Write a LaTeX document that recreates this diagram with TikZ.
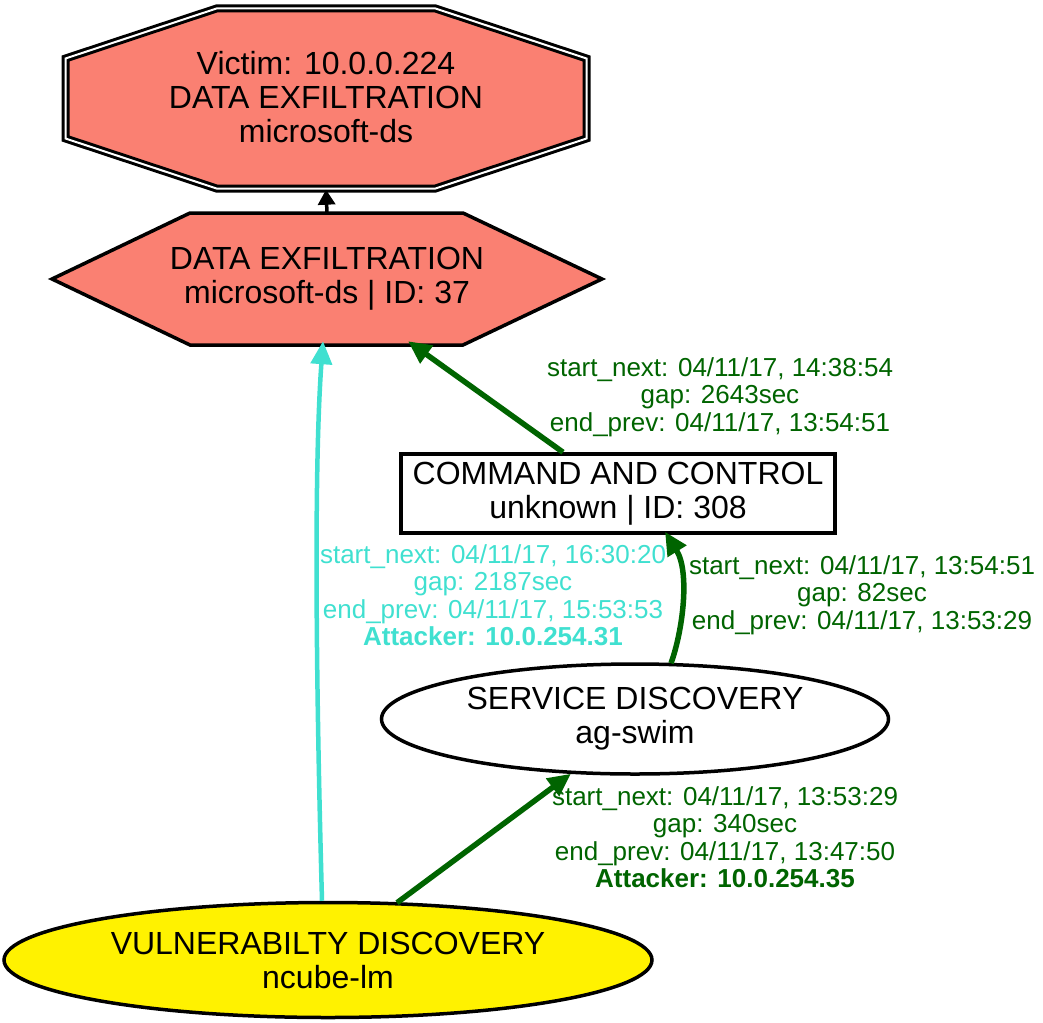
\documentclass[tikz,border=0pt]{standalone}
\usepackage{fontspec}
\setmainfont{Liberation Sans}
\usetikzlibrary{arrows.meta,shapes.geometric}
\definecolor{salmon}{HTML}{FA8072}
\definecolor{turq}{HTML}{40E0D0}
\definecolor{dgreen}{HTML}{006400}
\begin{document}
\begin{tikzpicture}[x=1pt,y=-1pt,
  nodetext/.style={font=\fontsize{32}{34}\selectfont, align=center, inner sep=0pt},
  lbl/.style={font=\fontsize{26}{27.5}\selectfont, align=center, inner sep=0pt},
  arr/.style={-{Triangle[length=23pt,width=21pt]}, line width=5.5pt},
  border/.style={draw=black, line width=3.5pt}]
\useasboundingbox (0,0) rectangle (1043,1022);

% octagon (double border)
\path[fill=salmon, draw=black, line width=3pt, double=white, double distance=2pt]
  (65.5,58.5) -- (216.5,8.5) -- (435.5,8.5) -- (586.5,58.5) -- (586.5,138.5)
  -- (435.5,188.5) -- (216.5,188.5) -- (65.5,138.5) -- cycle;
\node[nodetext, minimum width=528pt, minimum height=187pt] (vic) at (326,97)
  {Victim: 10.0.0.224\\DATA EXFILTRATION\\microsoft-ds};

% hexagon
\path[fill=salmon, border, line join=miter]
  (52,279) -- (190,213) -- (463,213) -- (602,279) -- (463,345) -- (190,345) -- cycle;
\node[nodetext, minimum width=550pt, minimum height=132pt] (hex) at (327,279)
  {DATA EXFILTRATION\\microsoft-ds | ID: 37};

% command and control
\node[nodetext, border, fill=white, minimum width=434pt, minimum height=79pt] (c2c) at (618,493.5)
  {COMMAND AND CONTROL\\unknown | ID: 308};

% service discovery
\node[nodetext, border, ellipse, fill=white, minimum width=507pt, minimum height=110pt] (sd) at (635,719)
  {SERVICE DISCOVERY\\ag-swim};

% vulnerability discovery
\node[nodetext, border, ellipse, fill=yellow, minimum width=648pt, minimum height=115pt] (vul) at (328,960)
  {VULNERABILTY DISCOVERY\\ncube-lm};

% edges
\draw[line width=3.5pt, -{Triangle[length=15pt,width=17pt]}] (hex.north) -- ([yshift=1pt]vic.south);
\draw[arr, turq, line width=4.5pt] ([xshift=-6pt]vul.north) .. controls (317,720) and (313,480) .. ([xshift=-4pt,yshift=4pt]hex.south);
\draw[arr, dgreen] ([xshift=-55pt]c2c.north) -- ([xshift=81pt,yshift=4pt]hex.south);
\draw[arr, dgreen] ([xshift=36pt,yshift=-1pt]sd.north) .. controls (683,630) and (690,572) .. ([xshift=47pt,yshift=3pt]c2c.south);
\draw[arr, dgreen] ([xshift=69pt,yshift=-2pt]vul.north) -- ([xshift=-64pt,yshift=2pt]sd.south);

% labels
\node[lbl, dgreen] (l2) at (720,397) {start\_next: 04/11/17, 14:38:54\\gap: 2643sec\\end\_prev: 04/11/17, 13:54:51};
\node[lbl, turq] (l1) at (493,595) {start\_next: 04/11/17, 16:30:20\\gap: 2187sec\\end\_prev: 04/11/17, 15:53:53\\\textbf{Attacker: 10.0.254.31}};
\node[lbl, dgreen] (l3) at (862,595) {start\_next: 04/11/17, 13:54:51\\gap: 82sec\\end\_prev: 04/11/17, 13:53:29};
\node[lbl, dgreen] (l4) at (725,837) {start\_next: 04/11/17, 13:53:29\\gap: 340sec\\end\_prev: 04/11/17, 13:47:50\\\textbf{Attacker: 10.0.254.35}};
\end{tikzpicture}
\end{document}
